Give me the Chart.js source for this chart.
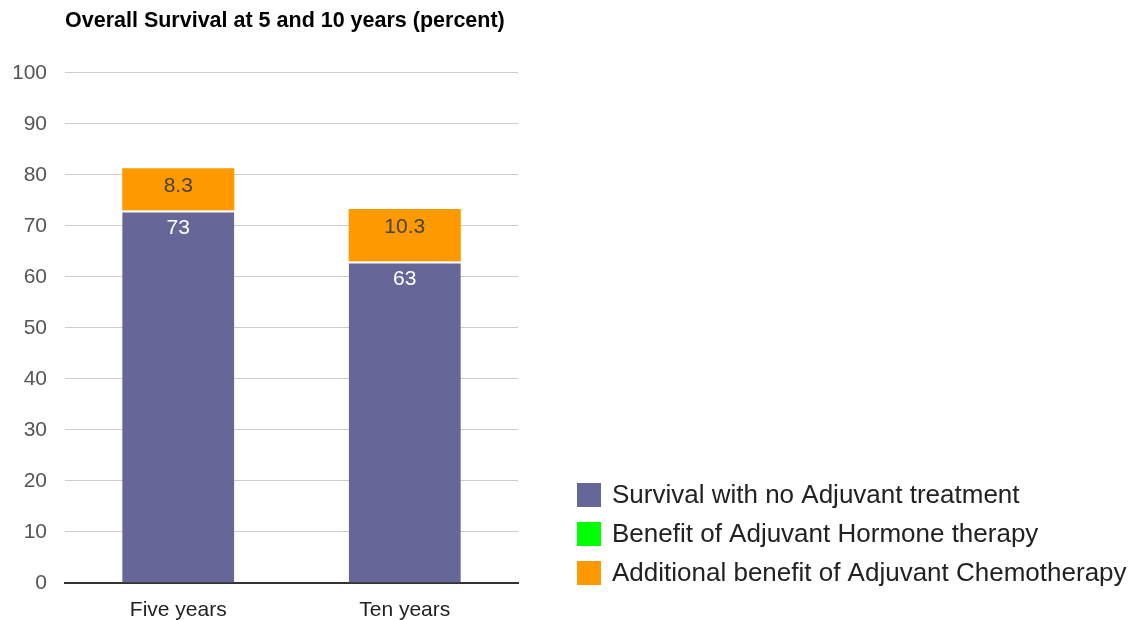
<!DOCTYPE html>
<html>
<head>
<meta charset="utf-8">
<script src="https://cdn.jsdelivr.net/npm/chart.js@4.4.1/dist/chart.umd.min.js"></script>
<style>
  html, body { margin: 0; padding: 0; background: #fff; }
  #wrap { width: 1130px; height: 620px; }
</style>
</head>
<body>
<div id="wrap"><canvas id="survival-chart" width="1130" height="620"></canvas></div>
<script>
var categories = ['Five years', 'Ten years'];
var noAdjuvant = [73, 63];
var hormoneBenefit = [0, 0];
var chemoBenefit = [8.3, 10.3];
var yTicks = [0, 10, 20, 30, 40, 50, 60, 70, 80, 90, 100];

var FONT = '"Liberation Sans", Arial, sans-serif';

// value text drawn just under the top edge of each segment
var barLabels = {
    id: 'barLabels',
    afterDatasetsDraw: function(chart) {
        var ctx = chart.ctx;
        chart.data.datasets.forEach(function(ds, i) {
            var meta = chart.getDatasetMeta(i);
            meta.data.forEach(function(bar, j) {
                var v = ds.data[j];
                if (!v) return;
                ctx.save();
                ctx.font = '21px ' + FONT;
                ctx.fillStyle = ds.labelColor;
                ctx.textAlign = 'center';
                ctx.textBaseline = 'middle';
                ctx.fillText(String(v), bar.x, bar.y + 18);
                ctx.restore();
            });
        });
    }
};

// legend sits in the empty space right of the plot, bottom aligned
var sideLegend = {
    id: 'sideLegend',
    afterDraw: function(chart) {
        var ctx = chart.ctx;
        var area = chart.chartArea;
        var sets = chart.data.datasets;
        var box = 24, step = 39;
        var x = area.right + 59;
        var yLast = area.bottom - 10;
        ctx.save();
        ctx.font = '26px ' + FONT;
        ctx.textBaseline = 'middle';
        ctx.textAlign = 'left';
        sets.forEach(function(ds, i) {
            var cy = yLast - (sets.length - 1 - i) * step;
            ctx.fillStyle = ds.backgroundColor;
            ctx.fillRect(x, cy - box / 2, box, box);
            ctx.fillStyle = '#222222';
            ctx.fillText(ds.label, x + box + 11, cy + 1);
        });
        ctx.restore();
    }
};

new Chart(document.getElementById('survival-chart'), {
    type: 'bar',
    data: {
        labels: categories,
        datasets: [
            {
                label: 'Survival with no Adjuvant treatment',
                data: noAdjuvant,
                backgroundColor: '#666699',
                borderColor: '#ffffff',
                borderWidth: {top: 2, left: 0, right: 0, bottom: 0},
                borderSkipped: false,
                labelColor: '#ffffff'
            },
            {
                label: 'Benefit of Adjuvant Hormone therapy',
                data: hormoneBenefit,
                backgroundColor: '#00ff00',
                borderWidth: 0,
                labelColor: '#444444'
            },
            {
                label: 'Additional benefit of Adjuvant Chemotherapy',
                data: chemoBenefit,
                backgroundColor: '#ff9900',
                borderWidth: 0,
                labelColor: '#444444'
            }
        ]
    },
    options: {
        responsive: false,
        devicePixelRatio: 1,
        animation: false,
        layout: { padding: { left: 14, right: 612, top: 0, bottom: 0 } },
        datasets: {
            bar: { categoryPercentage: 1, barPercentage: 0.495 }
        },
        scales: {
            x: {
                stacked: true,
                grid: { display: false, drawTicks: false },
                border: { display: true, color: '#333333', width: 2 },
                ticks: { padding: 15, color: '#222222', font: { family: FONT, size: 21 } },
                afterFit: function(scale) { scale.height = 37; }
            },
            y: {
                stacked: true,
                min: 0,
                max: 100,
                afterBuildTicks: function(scale) {
                    scale.ticks = yTicks.map(function(v) { return {value: v}; });
                },
                grid: { color: '#cccccc', lineWidth: 1, drawTicks: false },
                border: { display: false },
                ticks: { padding: 18, color: '#555555', font: { family: FONT, size: 21 } },
                afterFit: function(scale) { scale.width = 51; }
            }
        },
        plugins: {
            title: {
                display: true,
                text: 'Overall Survival at 5 and 10 years (percent)',
                align: 'start',
                fullSize: false,
                color: '#000000',
                font: { family: FONT, size: 21.5, weight: 'bold' },
                padding: { top: 8, bottom: 39 }
            },
            legend: { display: false },
            tooltip: { enabled: false }
        }
    },
    plugins: [barLabels, sideLegend]
});
</script>
</body>
</html>
